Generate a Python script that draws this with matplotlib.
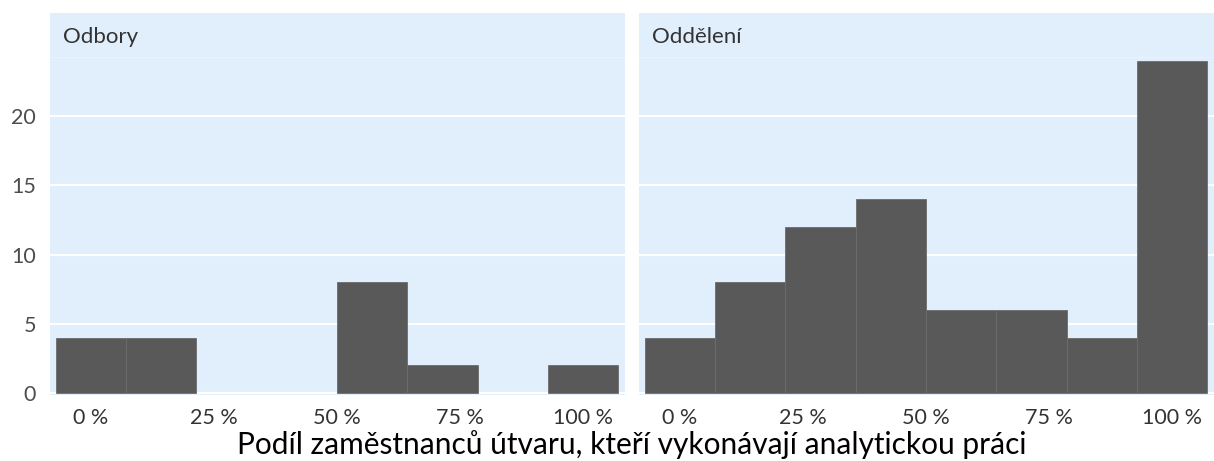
import numpy as np
import matplotlib
matplotlib.use('Agg')
import matplotlib.pyplot as plt

# counts per bin (8 bins, centred on 0, 1/7, ..., 1)
panels = ['Odbory', 'Oddělení']
odbory_counts = [4, 4, 0, 0, 8, 2, 0, 2]
oddeleni_counts = [4, 8, 12, 14, 6, 6, 4, 24]
x_ticks = [0, 0.25, 0.5, 0.75, 1.0]
x_labels = ['0 %', '25 %', '50 %', '75 %', '100 %']
y_ticks = [0, 5, 10, 15, 20]
x_title = 'Podíl zaměstnanců útvaru, kteří vykonávají analytickou práci'

plt.rcParams['font.family'] = ['Lato', 'DejaVu Sans']

bg = '#E1EEFC'
bar_col = '#595959'
edges = np.linspace(-1 / 14, 1 + 1 / 14, 9)

fig = plt.figure(figsize=(12.14, 4.61), dpi=100)
W, H = 1214, 461
ax_left = fig.add_axes([50 / W, (H - 395) / H, 575 / W, 382 / H])
ax_right = fig.add_axes([639 / W, (H - 395) / H, 575 / W, 382 / H])

for ax, name, counts in [(ax_left, panels[0], odbory_counts),
                         (ax_right, panels[1], oddeleni_counts)]:
    ax.set_facecolor(bg)
    for s in ax.spines.values():
        s.set_visible(False)
    ax.set_xlim(-0.0833, 1.085)
    ax.set_ylim(-0.144, 27.44)
    ax.set_yticks(y_ticks)
    for yv in y_ticks:
        ax.axhline(yv, color='white', lw=1.6, zorder=1)
    # strip separator
    ax.axhline(24.26, color='#E9F3FD', lw=1, zorder=1)
    counts = np.array(counts)
    lws = np.where(counts > 0, 0.6, 0.0)
    ax.bar(edges[:-1], counts, width=np.diff(edges), align='edge',
           color=bar_col, edgecolor='#6c6c6c', linewidth=lws, zorder=2)
    ax.set_xticks(x_ticks)
    ax.set_xticklabels(x_labels)
    ax.tick_params(axis='both', length=0, labelsize=15.5, colors='#333333')
    ax.tick_params(axis='x', pad=9)
    ax.tick_params(axis='y', pad=10, labelcolor='#4d4d4d')
    ax.text(13 / 575, 0.937, name, transform=ax.transAxes, fontsize=16,
            color='#333333', ha='left', va='center')

ax_right.tick_params(axis='y', labelleft=False)

fig.text(632 / W, (H - 445) / H, x_title, ha='center', va='center',
         fontsize=21.5, color='black')

fig.savefig('out.png', dpi=100)
